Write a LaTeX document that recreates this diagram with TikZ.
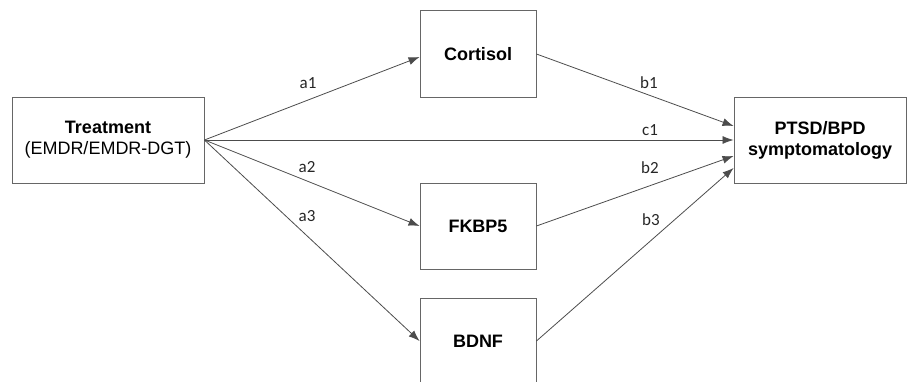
\documentclass[tikz,border=0pt]{standalone}
\usepackage{fontspec}
\setmainfont{Liberation Sans}
\newfontfamily\lblfont{Carlito}
\usetikzlibrary{arrows.meta,positioning}

\begin{document}
\begin{tikzpicture}[x=1pt,y=-1pt,
  box/.style={draw=black!60,line width=0.9pt,align=center,font=\fontsize{18}{21}\selectfont,inner sep=0pt},
  path/.style={draw=black!70,line width=0.8pt,-{Latex[length=11pt,width=8pt]}},
  lbl/.style={font=\lblfont\fontsize{17}{20}\selectfont,text=black!85,inner sep=0pt}]
\clip (0,0) rectangle (909,382);
\useasboundingbox (0,0) rectangle (909,382);
% boxes
\node[box,minimum width=192pt,minimum height=86pt] (treat) at (108,140) {\textbf{Treatment}\\(EMDR/EMDR-DGT)};
\node[box,minimum width=116pt,minimum height=87pt] (cort) at (478,54) {\textbf{Cortisol}};
\node[box,minimum width=116pt,minimum height=86pt] (fkbp) at (478,226) {\textbf{FKBP5}};
\node[box,minimum width=116pt,minimum height=86pt] (bdnf) at (478,341) {\raisebox{-7pt}{\textbf{BDNF}}};
\node[box,minimum width=172pt,minimum height=86pt] (ptsd) at (820,140) {\textbf{PTSD/BPD}\\\textbf{symptomatology}};
% paths
\draw[path] (treat.east) -- ([yshift=-3pt]cort.west);
\draw[path] (treat.east) -- (fkbp.west);
\draw[path] (treat.east) -- (bdnf.west);
\draw[path] (treat.east) -- (ptsd.west);
\draw[path] (cort.east) -- ([yshift=14pt]ptsd.west);
\draw[path] (fkbp.east) -- ([yshift=-16pt]ptsd.west);
\draw[path] (bdnf.east) -- ([yshift=-28pt]ptsd.west);
% labels
\node[lbl] (la1) at (308,83) {a1};
\node[lbl] (la2) at (307,167) {a2};
\node[lbl] (la3) at (307,216) {a3};
\node[lbl] (lb1) at (649,83) {b1};
\node[lbl] (lc1) at (650,130) {c1};
\node[lbl] (lb2) at (650,168) {b2};
\node[lbl] (lb3) at (651,220) {b3};
\end{tikzpicture}
\end{document}
